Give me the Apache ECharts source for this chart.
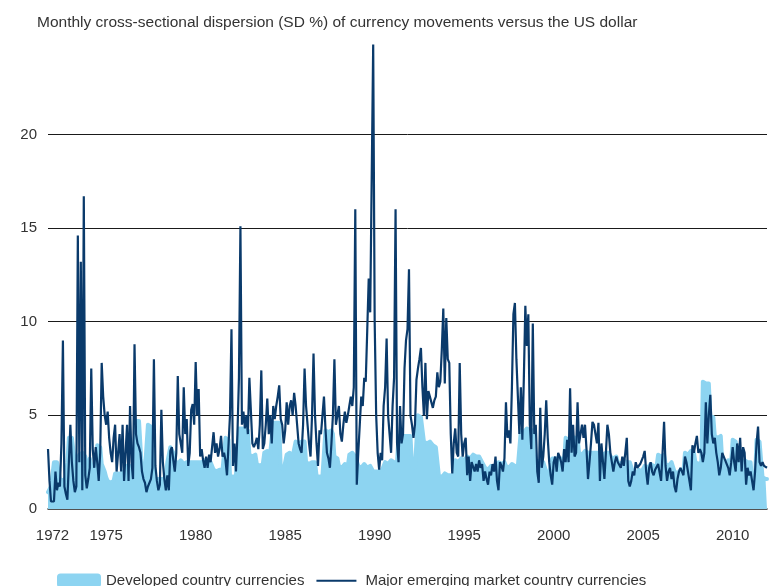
<!DOCTYPE html>
<html><head><meta charset="utf-8">
<script src="https://cdn.jsdelivr.net/npm/echarts@6/dist/echarts.min.js"></script>
<style>html,body{margin:0;padding:0;background:#fff}#c{width:773px;height:586px}</style>
</head><body><div id="c"></div>
<script>
// Monthly series, first value = October 1971
const startYear = 1971, startMonth = 10;
const xTickLabels = [1972, 1975, 1980, 1985, 1990, 1995, 2000, 2005, 2010];
const yTickLabels = [0, 5, 10, 15, 20];
const seriesNames = ['Developed country currencies', 'Major emerging market country currencies'];

// Major emerging market country currencies (SD %)
const em1970s = [3.2,1.5,0.4,0.3,0.4,2.0,1.0,1.4,1.2,3.5,
9.0,1.2,0.8,0.5,2.5,4.5,2.5,1.5,0.9,1.2,
14.6,2.5,13.2,1.0,16.7,1.8,1.1,1.6,2.2,7.5,
3.2,2.2,3.3,2.5,1.5,3.0,7.8,6.0,5.0,4.5,
5.2,3.8,3.0,2.5,3.8,4.5,2.0,3.0,4.0,2.0,
4.5,1.5,3.0,4.5,1.5,5.5,2.5,1.6,8.8,4.0,
3.5,3.3,3.0,2.0,1.6,1.4,0.9,1.2,1.1,1.6,
2.2,8.0,2.3,1.5,1.0,1.3,5.3,2.5,1.6,1.0,
1.8,1.0,3.1,3.3,2.6,2.0,3.0,7.1,4.0,3.5,
3.0,6.5,4.0,4.8,2.3,3.0,5.3,5.6,4.5];
const em1980s = [7.85,5.0,6.4,2.8,3.2,2.6,2.2,2.8,2.2,2.9,
2.5,3.3,4.1,3.0,3.5,2.8,3.2,3.9,2.8,3.0,
2.6,1.8,1.9,5.0,9.6,2.3,3.5,2.0,4.0,7.0,
15.1,4.5,5.2,4.3,5.0,4.0,7.0,7.1,3.5,3.3,
3.5,3.8,3.2,4.5,7.4,3.2,3.5,4.5,5.9,4.0,
5.0,3.5,5.5,4.8,5.5,6.0,6.6,4.8,4.5,3.5,
4.2,5.7,4.5,5.5,5.8,5.0,6.2,5.5,4.5,3.5,
3.2,3.0,4.5,7.5,5.5,4.5,3.5,2.8,5.0,8.3,
5.0,3.5,2.3,4.2,4.0,5.0,6.0,4.3,3.0,2.7,
2.2,3.5,5.0,8.0,4.5,4.5,5.5,4.0,3.6,4.5,
5.2,4.6,5.0,5.5,6.0,5.5,6.5,16.0,1.3,3.0,
4.5,6.0,5.5,7.0,6.8,9.5,12.3,10.5,10.6,24.8];
const em1990s = [10.0,5.0,3.0,2.1,3.0,2.6,5.5,6.5,9.1,5.0,
4.0,3.0,5.5,7.0,16.0,3.5,2.5,5.5,3.5,4.0,
7.5,9.0,9.6,12.8,5.0,4.5,3.8,4.5,6.9,7.5,
8.0,8.6,6.5,5.0,7.8,4.8,6.3,6.0,6.0,5.4,
5.8,6.0,7.3,6.5,6.8,8.5,10.7,6.7,10.2,8.0,
7.8,4.0,1.9,3.5,4.3,3.0,2.8,7.8,4.0,2.8,
3.5,3.8,1.8,2.8,1.5,2.5,2.5,2.0,2.4,2.0,
2.6,2.2,2.4,1.5,2.0,1.6,1.3,2.0,1.8,2.4,
2.0,2.8,1.5,1.0,2.5,2.3,2.0,2.7,5.7,3.8,
4.2,3.5,6.5,10.4,11.0,8.0,6.0,4.0,6.5,3.7,
7.0,10.85,8.7,10.4,4.5,3.2,9.9,4.0,4.5,2.0,
1.4,5.4,2.2,2.8,4.0,5.8,3.8,2.5,1.8,1.3];
const em2000s = [2.5,2.8,2.0,3.0,2.8,2.5,2.0,3.2,2.5,3.7,
2.5,6.45,3.0,4.5,2.8,3.0,5.7,3.5,3.5,4.5,
3.8,4.5,3.2,1.6,2.5,3.5,4.65,4.5,4.0,3.5,
4.6,1.5,3.5,3.5,1.6,3.0,4.5,4.0,3.0,2.5,
2.0,2.5,2.8,2.5,2.6,2.2,2.8,2.3,3.0,3.8,
1.5,1.2,1.5,2.0,1.8,2.5,2.2,2.3,2.4,2.5,
2.8,3.1,2.0,1.3,2.2,2.5,2.0,1.8,2.1,2.2,
2.4,2.5,1.5,3.0,4.65,2.3,1.5,2.0,2.2,1.6,
2.0,1.2,0.9,1.6,2.0,2.2,2.0,1.8,2.8,2.5,
2.0,1.5,1.0,3.4,3.0,3.5,3.9,3.0,3.2,3.0,
2.5,3.0,5.7,3.5,5.0,6.1,4.0,3.5,3.8,3.0,
2.5,1.8,2.2,3.0,2.8,2.6,2.7,2.2,1.8,2.5];
const em2010s = [3.3,2.5,2.0,3.5,2.5,3.8,2.0,3.3,3.0,1.3,2.2,1.8,
2.0,1.5,1.0,2.0,3.5,4.4,2.5,2.3,2.5,2.3,2.2,2.2];

// Developed country currencies (SD %)
const dev1970s = [0.9,1.0,1.2,1.2,2.5,2.5,2.5,2.4,1.6,1.6,1.5,1.6,1.7,2.5,
3.8,3.8,3.8,3.7,2.5,2.5,2.6,2.9,2.9,3.0,2.9,2.8,
2.0,2.0,2.7,2.7,2.0,1.9,2.0,3.4,3.4,3.3,2.4,2.3,2.0,1.7,1.5,
1.4,1.4,1.4,1.5,1.9,1.9,1.9,2.0,1.9,1.9,2.0,2.0,
2.3,2.3,2.2,2.3,2.4,2.4,4.7,4.7,4.7,4.6,2.0,2.0,2.1,2.0,
4.5,4.5,4.4,4.4,1.6,1.5,1.6,1.7,1.6,1.5,1.6,1.6,1.7,
2.5,2.6,3.3,3.3,3.0,2.6,2.5,2.4,2.5,2.6,2.5,2.4,2.5,2.5,2.6,2.5,2.4,
2.5,2.5];
const dev1980s = [2.5,2.6,2.5,2.4,2.5,2.5,2.6,2.5,2.4,2.5,2.5,2.6,
2.1,2.1,2.0,2.1,2.1,2.2,2.1,2.1,3.8,3.8,3.7,
1.8,1.8,1.7,1.8,1.8,1.9,4.3,4.3,4.3,4.2,4.3,4.3,4.2,
2.9,2.9,2.8,2.9,2.9,2.4,2.4,2.3,2.4,2.4,
3.0,3.0,3.1,3.0,3.0,2.9,4.6,4.6,4.6,4.5,4.6,2.2,2.2,2.1,2.2,
2.9,2.9,3.0,2.9,2.8,2.9,3.6,3.6,3.5,3.6,3.6,3.5,3.6,
2.5,2.5,2.4,2.5,2.5,2.6,2.5,1.8,1.8,1.7,1.8,1.8,1.9,
4.2,4.2,4.1,4.2,4.2,4.0,2.8,2.8,2.7,
2.3,2.3,2.2,2.3,2.4,2.3,2.3,2.9,2.9,3.0,2.9,2.8,2.9,
2.3,2.3,2.2,2.3,2.4,2.3,2.2,2.3,2.3,2.4,2.0];
const dev1990s = [2.0,2.0,1.9,2.0,2.0,2.1,2.0,
2.5,2.5,2.4,2.5,2.6,2.5,2.5,2.4,2.5,
3.9,3.9,3.8,3.9,3.9,4.0,3.9,3.8,3.9,
2.3,2.3,2.2,2.3,5.0,5.0,4.9,5.0,3.6,3.6,3.5,3.6,3.6,3.5,3.4,3.4,3.3,3.4,
1.8,1.8,1.7,1.8,1.9,1.8,1.8,1.7,1.8,1.8,1.8,
2.6,2.6,2.5,2.6,2.7,2.6,2.6,2.5,
2.8,2.8,2.7,2.8,2.9,2.8,2.8,2.7,2.8,2.8,2.5,2.5,
2.2,2.2,2.1,2.2,2.3,2.2,2.2,2.1,2.2,2.5,2.5,2.4,2.5,2.5,
2.3,2.3,2.2,2.3,2.4,2.3,2.3,2.2,2.3,2.3,
4.2,4.2,4.1,4.2,4.3,4.2,4.2,4.1,4.2,
2.5,2.5,2.4,2.5,2.6,2.5,2.5,2.4,2.0,2.0,1.9,2.0,2.7];
const dev2000s = [2.7,2.7,2.6,2.7,2.8,2.7,2.7,2.6,
3.8,3.8,3.7,3.8,3.9,3.8,3.8,3.7,3.8,
3.0,3.0,2.9,3.0,3.1,3.0,3.0,2.9,3.0,
3.0,3.0,2.9,3.0,3.1,3.0,3.0,2.9,3.0,3.0,3.1,3.0,
2.8,2.8,2.7,2.8,2.8,2.5,2.5,2.4,2.5,2.6,2.5,2.5,2.4,2.5,2.5,
2.0,2.0,1.9,2.0,2.1,2.0,2.0,1.9,2.3,2.3,2.2,2.3,2.4,2.3,2.3,2.2,2.3,
2.9,2.9,2.8,2.9,2.9,2.4,2.4,2.3,2.4,2.5,2.4,
2.0,2.0,1.9,2.0,2.1,2.0,2.0,3.0,3.0,2.9,3.0,3.1,3.0,3.0,
2.5,2.5,2.4,2.5,2.5,6.8,6.8,6.7,6.8,6.7,5.0,5.0,4.9,
3.9,3.9,3.8,3.9,3.9,2.5,2.5,2.4,2.5,2.6,2.5,2.5];
const dev2010s = [3.7,3.7,3.6,3.7,2.5,2.5,2.4,2.5,2.6,2.5,2.5,2.4,2.5,
1.5,1.5,1.6,3.7,3.7,3.6,3.7,1.7,1.7,1.6,1.6];

const emerging = [].concat(em1970s, em1980s, em1990s, em2000s, em2010s);
const developed = [].concat(dev1970s, dev1980s, dev1990s, dev2000s, dev2010s);

function toPairs(arr) {
  return arr.map((v, i) => [startYear + (startMonth - 1 + i) / 12, v]);
}
const devPairs = toPairs(developed);
const emPairs = toPairs(emerging);

const FONT = 'Liberation Sans, Arial, sans-serif';
const TXT = '#333333';
const LIGHT = '#8dd4f1';
const DARK = '#0a3a6b';
// legend glyph: a thin horizontal line inside a 44x14 box
const lineIcon = 'path://M0,0L0,0.01M0,6.2L40,6.2L40,8.2L0,8.2ZM44,13.99L44,14';

const chart = echarts.init(document.getElementById('c'), null, { renderer: 'canvas' });
chart.setOption({
  animation: false,
  backgroundColor: '#ffffff',
  title: {
    text: 'Monthly cross-sectional dispersion (SD %) of currency movements versus the US dollar',
    left: 37, top: 15, padding: 0,
    textStyle: { fontSize: 15.5, fontWeight: 'normal', color: TXT, fontFamily: FONT }
  },
  legend: {
    left: 57, top: 573, padding: 0,
    itemWidth: 44, itemHeight: 14, itemGap: 12,
    textStyle: { fontSize: 15, color: TXT, fontFamily: FONT },
    data: [
      { name: seriesNames[0], icon: 'roundRect', itemStyle: { color: LIGHT } },
      { name: seriesNames[1], icon: lineIcon, itemStyle: { color: DARK } }
    ]
  },
  grid: { left: 48, right: 6, top: 40.75, bottom: 77 },
  xAxis: {
    type: 'value',
    min: startYear + (startMonth - 1) / 12,
    max: startYear + (startMonth - 1 + emerging.length - 1) / 12,
    axisLine: { show: true, onZero: false, lineStyle: { color: '#1a1a1a', width: 1.5 } },
    axisTick: { show: false },
    splitLine: { show: false },
    axisLabel: {
      customValues: xTickLabels,
      formatter: v => String(Math.round(v)),
      color: TXT, fontSize: 15, fontFamily: FONT, margin: 19
    }
  },
  yAxis: {
    type: 'value', min: 0, max: 25, interval: 5,
    axisLine: { show: false },
    axisTick: { show: false },
    axisLabel: { customValues: yTickLabels, color: TXT, fontSize: 15, fontFamily: FONT, margin: 11 },
    splitLine: { show: true, showMinLine: false, showMaxLine: false, lineStyle: { color: '#1a1a1a', width: 1 } }
  },
  series: [
    {
      name: seriesNames[0], type: 'line', data: devPairs, symbol: 'none', z: 1,
      lineStyle: { color: LIGHT, width: 4, join: 'round', cap: 'round' },
      itemStyle: { color: LIGHT },
      areaStyle: { color: LIGHT, opacity: 1 }
    },
    {
      name: seriesNames[1], type: 'line', data: emPairs, symbol: 'none', z: 3,
      lineStyle: { color: DARK, width: 2.2 },
      itemStyle: { color: DARK }
    }
  ]
});
</script></body></html>
